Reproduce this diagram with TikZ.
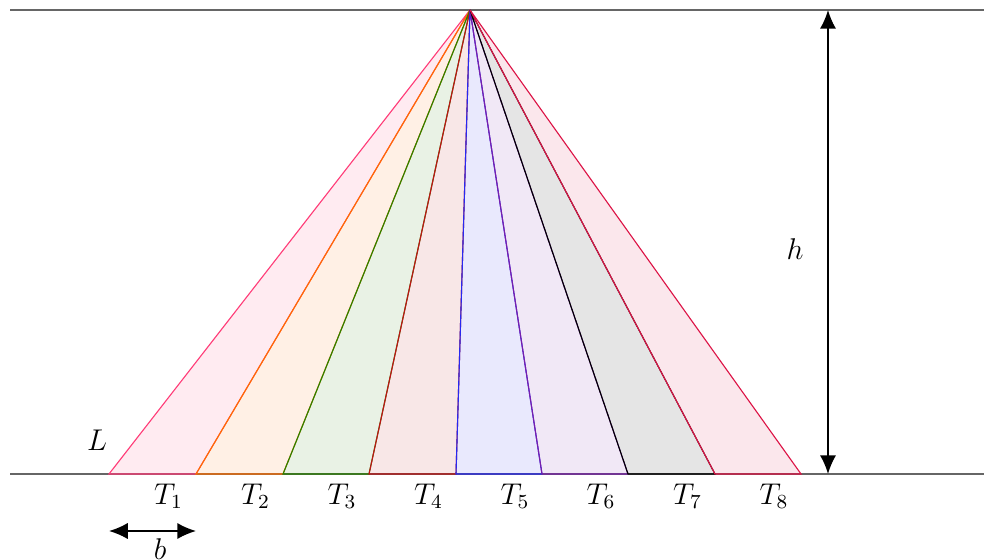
\documentclass[tikz,border=0pt]{standalone}
\usetikzlibrary{arrows.meta,calc}
\definecolor{cA}{RGB}{255,60,120}
\definecolor{cB}{RGB}{255,110,0}
\definecolor{cC}{RGB}{40,130,0}
\definecolor{cD}{RGB}{190,20,20}
\definecolor{cE}{RGB}{40,40,240}
\definecolor{cF}{RGB}{120,30,170}
\definecolor{cG}{RGB}{0,0,0}
\definecolor{cH}{RGB}{220,20,70}
\begin{document}
\begin{tikzpicture}[x=0.4pt,y=-0.4pt,
  tri/.style={draw=#1,fill=#1,fill opacity=0.1,line width=0.45pt},
  guide/.style={draw=black!60,line width=0.6pt},
  dim/.style={{Latex[length=7.5pt,width=6.5pt]}-{Latex[length=7.5pt,width=6.5pt]},line width=0.7pt},
  lab/.style={font=\fontsize{12}{14}\selectfont}]
\useasboundingbox (0,0) rectangle (984,559);
\coordinate (A) at (470,10);
\foreach \i/\x in {0/109,1/196,2/283,3/369,4/456,5/542,6/628,7/715,8/801}{
  \coordinate (P\i) at (\x,474);}
\coordinate (TL) at (10,10);
\coordinate (TR) at (984,10);
\coordinate (BL) at (10,474);
\coordinate (BR) at (984,474);
\draw[guide] (TL) -- (TR);
\draw[guide] (BL) -- (BR);
\foreach \i/\c in {1/cA,2/cB,3/cC,4/cD,5/cE,6/cF,7/cG,8/cH}{
  \pgfmathtruncatemacro{\j}{\i-1}
  \path[tri=\c] (A) -- (P\j) -- (P\i) -- cycle;
}
\foreach \i in {1,...,8}{
  \pgfmathtruncatemacro{\j}{\i-1}
  \node[lab,below right,inner sep=2pt] (T\i) at ($(P\j)!0.5!(P\i)+(-4,4)$) {$T_{\i}$};
}
\coordinate (HT) at (828,10);
\coordinate (HB) at (828,474);
\draw[dim] (HT) -- (HB);
\node[lab] (hl) at (795,249) {$h$};
\node[lab] (Ll) at (97,440) {$L$};
\coordinate (B0) at (109,531);
\coordinate (B1) at (196,531);
\draw[dim] (B0) -- (B1);
\node[lab] (bl) at (160,549) {$b$};
\end{tikzpicture}
\end{document}
